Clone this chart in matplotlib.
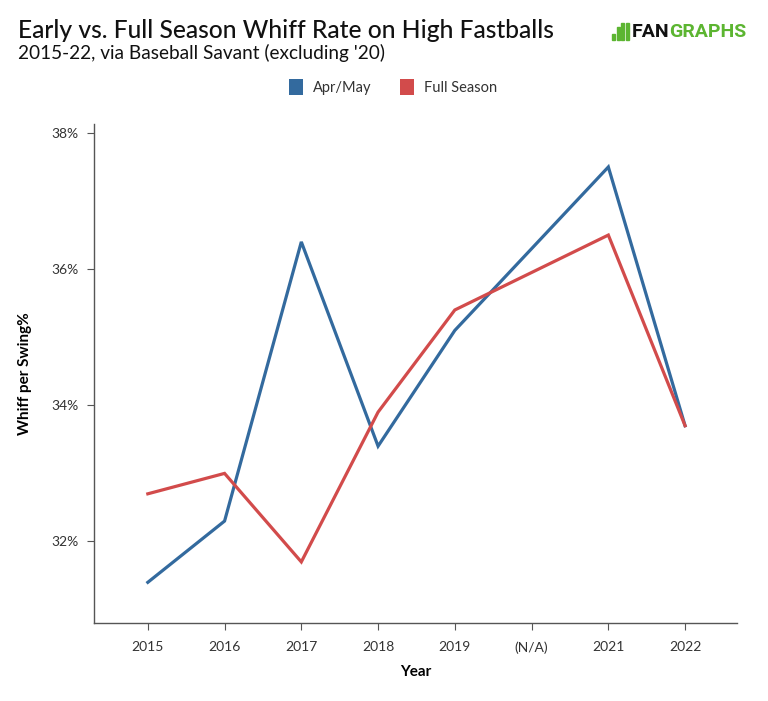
import matplotlib
matplotlib.use("Agg")
import matplotlib.pyplot as plt
from matplotlib.patches import Rectangle, Patch

# data
years = ["2015", "2016", "2017", "2018", "2019", "(N/A)", "2021", "2022"]
apr_may = [31.4, 32.3, 36.4, 33.4, 35.1, None, 37.5, 33.7]
full_season = [32.7, 33.0, 31.7, 33.9, 35.4, None, 36.5, 33.7]
y_ticks = [32, 34, 36, 38]

BLUE = "#336a9e"
RED = "#d24b4b"
FONT = ["Lato", "DejaVu Sans"]

plt.rcParams["font.family"] = FONT


def main():
    fig = plt.figure(figsize=(7.68, 7.01), dpi=100)
    ax = fig.add_axes([0.122, 0.111, 0.838, 0.712])

    for vals, color in ((apr_may, BLUE), (full_season, RED)):
        xs = [i for i, v in enumerate(vals) if v is not None]
        ys = [v for v in vals if v is not None]
        ax.plot(xs, ys, color=color, lw=2.3, solid_joinstyle="miter")

    ax.set_xlim(-0.705, 7.68)
    ax.set_ylim(30.8, 38.13)
    ax.set_xticks(range(len(years)))
    ax.set_xticklabels(years)
    ax.set_yticks(y_ticks)
    ax.set_yticklabels([f"{t}%" for t in y_ticks])

    for side in ("top", "right"):
        ax.spines[side].set_visible(False)
    for side in ("left", "bottom"):
        ax.spines[side].set_color("#555555")
        ax.spines[side].set_linewidth(1.0)
    ax.tick_params(axis="both", length=5, width=0.8, color="#555555",
                   labelsize=10, labelcolor="#333333", pad=6)
    ax.tick_params(axis="x", pad=8)

    ax.set_xlabel("Year", fontsize=11, fontweight="bold", labelpad=8)
    ax.set_ylabel("Whiff per Swing%", fontsize=11, fontweight="bold",
                  labelpad=14)

    # title block
    fig.text(0.023, 0.957, "Early vs. Full Season Whiff Rate on High Fastballs",
             fontsize=17.7, color="#111111", va="center", ha="left",
             fontweight="medium")
    fig.text(0.023, 0.925, "2015-22, via Baseball Savant (excluding '20)",
             fontsize=13.7, color="#111111", va="center", ha="left")

    # legend
    handles = [Patch(facecolor=BLUE, label="Apr/May"),
               Patch(facecolor=RED, label="Full Season")]
    fig.legend(handles=handles, loc="center", bbox_to_anchor=(0.512, 0.876),
               ncol=2, frameon=False, fontsize=10.5, handlelength=0.9,
               handleheight=1.3, handletextpad=0.7, columnspacing=2.0,
               labelcolor="#333333")

    # FanGraphs logo
    green = "#5cb531"
    for x0, h in ((0.797, 0.008), (0.803, 0.018), (0.809, 0.024), (0.815, 0.024)):
        fig.add_artist(Rectangle((x0, 0.943), 0.004, h, color=green,
                                 transform=fig.transFigure))
    fan = fig.text(0.822, 0.955, "FAN", fontsize=14, fontweight="bold",
                   color="#111111", va="center", ha="left", family="Roboto")
    renderer = fig.canvas.get_renderer()
    bb = fan.get_window_extent(renderer).transformed(fig.transFigure.inverted())
    fig.text(bb.x1, 0.955, "GRAPHS", fontsize=14, fontweight="bold",
             color=green, va="center", ha="left", family="Roboto")

    fig.savefig("out.png", dpi=100, facecolor="white")


if __name__ == "__main__":
    main()
